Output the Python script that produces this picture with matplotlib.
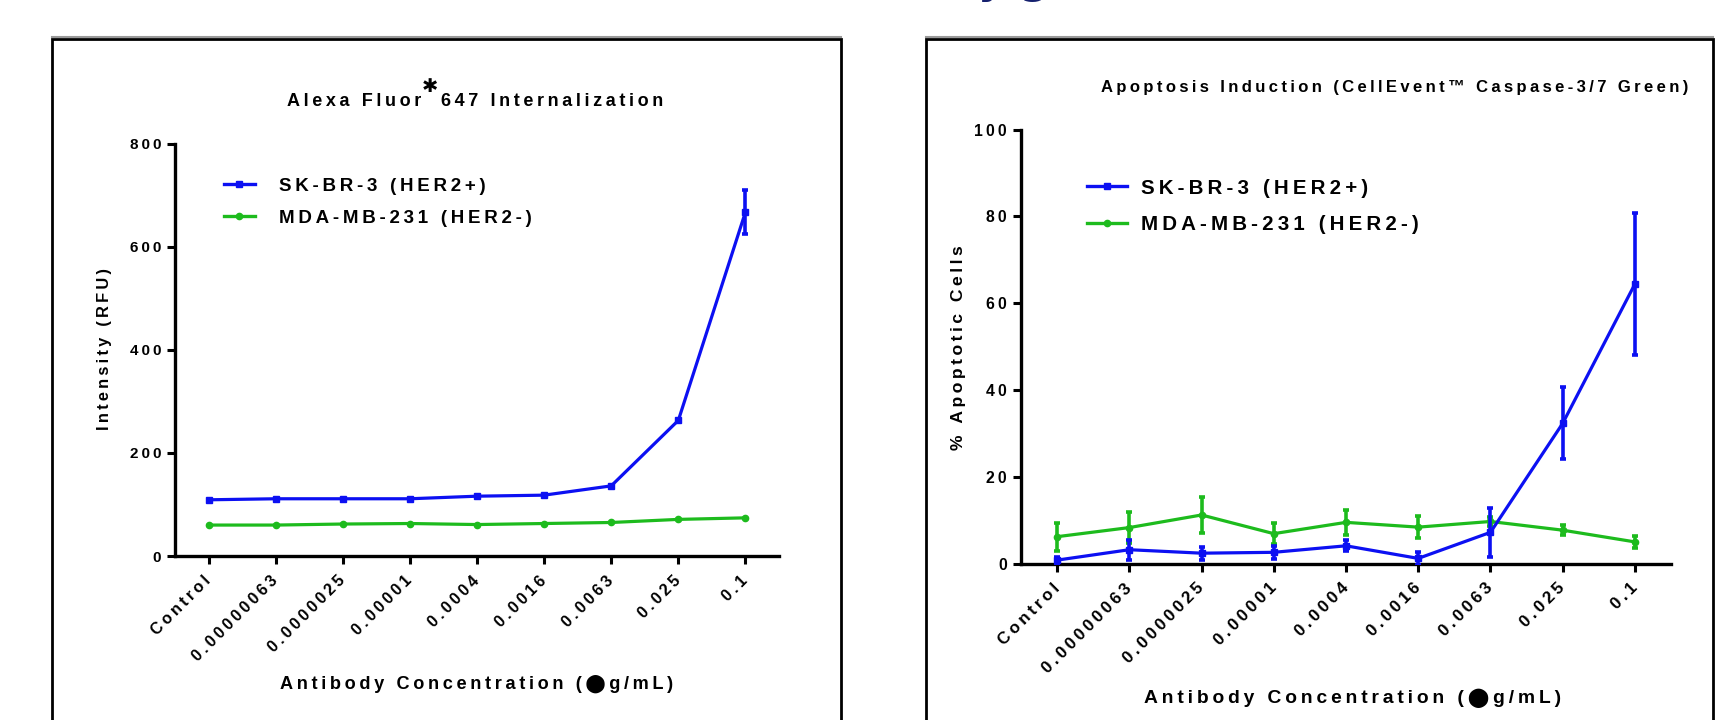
import numpy as np
import matplotlib.pyplot as plt
from matplotlib.patches import Rectangle
from matplotlib.lines import Line2D

W, H = 1716, 720

concs = ["Control", "0.00000063", "0.0000025", "0.00001", "0.0004",
         "0.0016", "0.0063", "0.025", "0.1"]

# Alexa Fluor 647 internalization (RFU)
int_pos = [109, 111, 111, 111, 116, 118, 136, 263, 667]
int_pos_err = [0, 0, 0, 0, 0, 0, 0, 0, 42]
int_neg = [60, 60, 62, 63, 61, 63, 65, 71, 74]

# apoptosis (% apoptotic cells)
apo_pos = [0.8, 3.2, 2.4, 2.6, 4.1, 1.2, 7.2, 32.3, 64.4]
apo_pos_err = [0.8, 2.3, 1.5, 1.5, 1.3, 1.5, 5.7, 8.3, 16.4]
apo_neg = [6.2, 8.3, 11.2, 6.9, 9.5, 8.4, 9.7, 7.7, 5.0]
apo_neg_err = [3.2, 3.5, 4.2, 2.4, 2.8, 2.6, 1.0, 1.2, 1.3]

labels = ["SK-BR-3 (HER2+)", "MDA-MB-231 (HER2-)"]

BLUE = "#0c10f2"
GREEN = "#1dbb1d"

plt.rcParams["font.family"] = ["Liberation Sans", "DejaVu Sans"]
plt.rcParams["font.weight"] = "bold"


def sp(s):
    # fake letter spacing with thin spaces
    return "\u2009".join(s)


def fx(px):
    return px / W


def fy(py):
    return 1 - py / H


fig = plt.figure(figsize=(W / 100, H / 100), dpi=100)

# panel frames
for x0, x1 in [(52, 841), (926, 1713)]:
    fig.add_artist(Line2D([fx(x0), fx(x1)], [fy(37), fy(37)], color="#9a9a9a", lw=1.5))
    fig.add_artist(Rectangle((fx(x0), -0.1), fx(x1) - fx(x0), fy(39) + 0.1,
                             fill=False, ec="black", lw=2))

# cut-off slide title at the very top
fig.text(fx(978), fy(-7.5), "y g", color="#15206e", fontsize=30,
         family="DejaVu Sans", weight="bold", ha="left", va="baseline")

axL = fig.add_axes([fx(175), fy(556), fx(779) - fx(175), (556 - 143.5) / H])
axR = fig.add_axes([fx(1021), fy(563.6), fx(1671) - fx(1021), (563.6 - 129.5) / H])

x = np.arange(len(concs))


def style(ax, ymax, step, yfs, xfs):
    ax.set_xlim(-0.5, 8.5)
    ax.set_ylim(0, ymax)
    for s in ["top", "right"]:
        ax.spines[s].set_visible(False)
    for s in ["left", "bottom"]:
        ax.spines[s].set_linewidth(2.4)
    ax.set_yticks(np.arange(0, ymax + 1, step))
    ax.set_yticklabels([sp(str(v)) for v in np.arange(0, ymax + 1, step)], fontsize=yfs)
    ax.set_xticks(x)
    ax.set_xticklabels([sp(c) for c in concs], fontsize=xfs, rotation=45,
                       ha="right", va="center", rotation_mode="anchor")
    ax.tick_params(width=2.2, length=6)
    ax.tick_params(axis="x", pad=10)
    ax.tick_params(axis="y", pad=4)
    ax.patch.set_alpha(0)


# left chart
axL.plot(x, int_neg, color=GREEN, lw=2.3, marker="o", ms=4.5, zorder=3)
axL.plot(x, int_pos, color=BLUE, lw=2.3, marker="s", ms=5, zorder=4)
err = np.array(int_pos_err)
m = err > 0
axL.errorbar(x[m], np.array(int_pos)[m], yerr=err[m], fmt="none", ecolor=BLUE,
             elinewidth=2.6, capsize=2.5, capthick=2.6, zorder=4)
style(axL, 800, 200, 11, 11.6)

# right chart
axR.errorbar(x, apo_neg, yerr=apo_neg_err, color=GREEN, lw=2.3, marker="o", ms=4.5,
             elinewidth=2.6, capsize=2.5, capthick=2.6, zorder=3)
axR.errorbar(x, apo_pos, yerr=apo_pos_err, color=BLUE, lw=2.3, marker="s", ms=5,
             elinewidth=2.6, capsize=2.5, capthick=2.6, zorder=4)
style(axR, 100, 20, 11.3, 12.2)

# legends
handles = [Line2D([], [], color=BLUE, lw=2.4, marker="s", ms=5),
           Line2D([], [], color=GREEN, lw=2.4, marker="o", ms=4.5)]
axL.legend(handles, [sp(l) for l in labels], loc="upper left",
           bbox_to_anchor=(fx(224), fy(177.5)), bbox_transform=fig.transFigure,
           frameon=False, fontsize=13.5, handlelength=1.65, handletextpad=1.28,
           labelspacing=0.8, borderpad=0, borderaxespad=0)
axR.legend(handles, [sp(l) for l in labels], loc="upper left",
           bbox_to_anchor=(fx(1087), fy(178.5)), bbox_transform=fig.transFigure,
           frameon=False, fontsize=14.8, handlelength=1.94, handletextpad=0.68,
           labelspacing=0.87, borderpad=0, borderaxespad=0)

# left title: text + superscript mark + text, laid out from measured widths
renderer = fig.canvas.get_renderer()
t1 = fig.text(fx(287), fy(102), sp("Alexa Fluor"), fontsize=13, ha="left", va="center")
x_end = t1.get_window_extent(renderer).x1
fig.text((x_end + 9) / W, fy(87), "\u2731", fontsize=14, ha="center", va="center",
         family="DejaVu Sans")
fig.text((x_end + 20) / W, fy(102), sp("647 Internalization"), fontsize=13,
         ha="left", va="center")
fig.text(fx(1395), fy(87.5), sp("Apoptosis Induction (CellEvent\u2122 Caspase-3/7 Green)"),
         fontsize=12, ha="center", va="center")

# axis labels
fig.text(fx(104), fy(349), sp("Intensity (RFU)"), fontsize=11.8, rotation=90,
         ha="center", va="center")
fig.text(fx(959), fy(347.5), sp("% Apoptotic Cells"), fontsize=12.6, rotation=90,
         ha="center", va="center")
fig.text(fx(477), fy(684), sp("Antibody Concentration (\u2b24g/mL)"), fontsize=13.1,
         ha="center", va="center")
fig.text(fx(1353), fy(698), sp("Antibody Concentration (\u2b24g/mL)"), fontsize=13.9,
         ha="center", va="center")

fig.savefig("out.png", dpi=100)
